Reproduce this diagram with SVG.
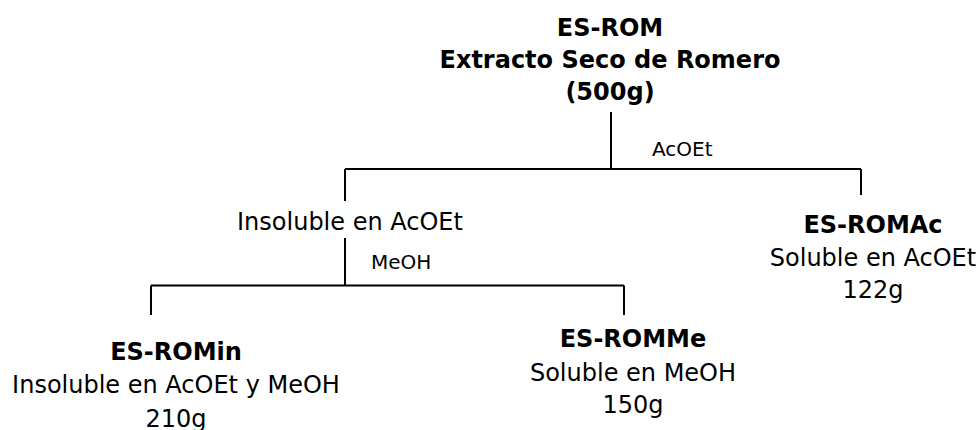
<svg xmlns="http://www.w3.org/2000/svg" width="979" height="430" viewBox="0 0 979 430">
<style>
text{font-family:"DejaVu Sans","Verdana",sans-serif;fill:#000;text-anchor:middle}
.t{font-size:24px}
.b{font-weight:bold}
.lab{font-size:20px;text-anchor:start}
.ln{stroke:#000;stroke-width:2;fill:none}
</style>
<rect width="979" height="430" fill="#fff"/>
<g id="connectors">
<path class="ln" d="M611 112V169M345 169H861M345 169V201M861 169V195"/>
<path class="ln" d="M345 238V285.5M151 285.5H624M151 285.5V315M624 285.5V315"/>
<text class="lab" x="652" y="156">AcOEt</text>
<text class="lab" x="371" y="269">MeOH</text>
</g>
<g id="es-rom">
<text class="t b" x="610" y="36">ES-ROM</text>
<text class="t b" x="610" y="68">Extracto Seco de Romero</text>
<text class="t b" x="610" y="100">(500g)</text>
</g>
<g id="insoluble-acoet">
<text class="t" x="350" y="230">Insoluble en AcOEt</text>
</g>
<g id="es-romac">
<text class="t b" x="873" y="233">ES-ROMAc</text>
<text class="t" x="873" y="266">Soluble en AcOEt</text>
<text class="t" x="873" y="298">122g</text>
</g>
<g id="es-romin">
<text class="t b" x="176" y="360">ES-ROMin</text>
<text class="t" x="176" y="393">Insoluble en AcOEt y MeOH</text>
<text class="t" x="176" y="427">210g</text>
</g>
<g id="es-rommme">
<text class="t b" x="633" y="347">ES-ROMMe</text>
<text class="t" x="633" y="381">Soluble en MeOH</text>
<text class="t" x="633" y="413">150g</text>
</g>
</svg>
